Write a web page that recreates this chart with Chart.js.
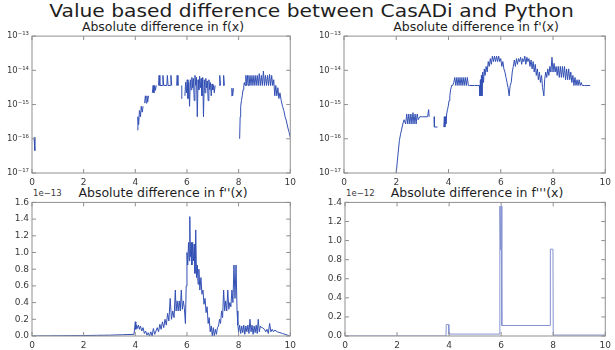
<!DOCTYPE html>
<html>
<head>
<meta charset="utf-8">
<script src="https://cdn.jsdelivr.net/npm/chart.js@4.4.0/dist/chart.umd.min.js"></script>
<style>
  body { margin: 0; width: 615px; height: 350px; overflow: hidden; position: relative; background: #fff;
         font-family: "DejaVu Sans", sans-serif; }
  canvas { position: absolute; }
  .txt { position: absolute; white-space: nowrap; color: #1e1e1e; }
  .main { left: 4px; top: 1px; width: 615px; text-align: center; font-size: 17px; line-height: 20px;
          transform: scaleX(1.19); }
  .sub { transform: translateX(-50%); font-size: 12.5px; line-height: 14px; }
  .off { font-size: 8.5px; line-height: 10px; color: #3a3a3a; }
</style>
</head>
<body>
<div class="txt main">Value based difference between CasADi and Python</div>
<div class="txt sub" id="t0" style="left:163px;top:20px;"></div>
<div class="txt sub" id="t1" style="left:476px;top:20px;"></div>
<div class="txt sub" id="t2" style="left:163px;top:186px;"></div>
<div class="txt sub" id="t3" style="left:477px;top:186px;"></div>
<div class="txt off" style="left:33px;top:188px;">1e−13</div>
<div class="txt off" style="left:346px;top:188px;">1e−12</div>
<canvas id="c0"></canvas>
<canvas id="c1"></canvas>
<canvas id="c2"></canvas>
<canvas id="c3"></canvas>
<script>
// ---- data ----
const titles = ['Absolute difference in f(x)', "Absolute difference in f'(x)",
                "Absolute difference in f''(x)", "Absolute difference in f'''(x)"];
const xTicks = [0, 2, 4, 6, 8, 10];
const logTicks = [1e-17, 1e-16, 1e-15, 1e-14, 1e-13];
const f2Ticks = [0, 0.2, 0.4, 0.6, 0.8, 1.0, 1.2, 1.4, 1.6];   // x 1e-13
const f3Ticks = [0, 0.2, 0.4, 0.6, 0.8, 1.0, 1.2, 1.4];        // x 1e-12

// f(x)
const fX = [
  0.08, 0.11, 0.12,
  4.08, 4.10, 4.13, 4.16, 4.20, 4.23, 4.27, 4.30, 4.33,
  4.36, 4.39, 4.42, 4.45, 4.48, 4.51, 4.54,
  4.66, 4.69, 4.72, 4.75, 4.78, 4.81, 4.84,
  4.90, 4.92, 4.95, 5.05, 5.07, 5.10, 5.22, 5.24, 5.27, 5.36, 5.38, 5.41, 5.50,
  5.60, 5.62, 5.65, 5.68,
  5.78, 5.80, 5.83,
  5.92, 5.95, 5.98, 6.01, 6.04, 6.07, 6.10, 6.13, 6.16, 6.19,
  6.22, 6.25, 6.28, 6.31, 6.34, 6.37, 6.40, 6.43, 6.46, 6.49,
  6.52, 6.55, 6.58, 6.61, 6.64, 6.67, 6.70, 6.73, 6.76, 6.79,
  6.82, 6.85, 6.88, 6.91, 6.94, 6.97, 7.00, 7.03, 7.06, 7.09, 7.12,
  7.25, 7.27, 7.30, 7.33,
  7.40, 7.42, 7.45, 7.48,
  7.72, 7.74, 7.77, 7.80, 7.83,
  8.04, 8.06, 8.08, 8.11, 8.14, 8.17, 8.20, 8.22, 8.25,
  8.28, 8.31, 8.34, 8.37, 8.40,
  8.44, 8.48, 8.52, 8.56, 8.60, 8.64, 8.68, 8.72, 8.76, 8.80,
  8.84, 8.88, 8.92, 8.96, 9.00, 9.04, 9.08, 9.12, 9.16, 9.20,
  9.24, 9.28, 9.32, 9.36, 9.40, 9.44, 9.48, 9.52, 9.56, 9.60,
  9.65, 9.70, 9.75, 9.80, 9.85, 9.90, 9.95, 10.0
];
const fY = [
  1.1e-16, 4.5e-17, null,
  1.8e-16, 4.4e-16, 2.6e-16, 6.7e-16, 4.4e-16, 8.9e-16, 6.0e-16, 8.9e-16, null,
  1.1e-15, 1.8e-15, 1.1e-15, 1.8e-15, 1.2e-15, 1.8e-15, null,
  2.2e-15, 3.6e-15, 2.2e-15, 3.6e-15, 2.6e-15, 3.6e-15, null,
  3.6e-15, 7.1e-15, 3.6e-15, 3.6e-15, 7.1e-15, 3.6e-15, 3.6e-15, 7.1e-15, 3.6e-15, 3.6e-15, 7.1e-15, 3.6e-15, null,
  3.6e-15, 7.1e-15, 3.6e-15, null,
  1.5e-15, 3.6e-15, null,
  1.8e-15, 4.5e-15, 2.2e-15, 5.3e-15, 1.5e-15, 4.4e-15, 8.9e-16, 5.3e-15, 2.7e-15, 6.2e-15,
  3.1e-15, 5.8e-15, 1.3e-15, 7.1e-15, 3.6e-15, 6.2e-15, 4.4e-16, 5.3e-15, 2.7e-15, 6.7e-15,
  3.1e-15, 5.8e-15, 1.8e-15, 6.2e-15, 4.4e-16, 5.3e-15, 2.2e-15, 5.8e-15, 3.1e-15, 4.9e-15,
  1.3e-15, 5.3e-15, 2.7e-15, 4.4e-15, 1.8e-15, 4.0e-15, 2.7e-15, 3.6e-15, 2.2e-15, 3.6e-15, null,
  3.6e-15, 7.1e-15, 3.6e-15, null,
  3.6e-15, 7.1e-15, 3.6e-15, null,
  1.8e-15, 3.0e-15, 1.8e-15, 3.0e-15, null,
  1.0e-16, 4.4e-16, 8.9e-16, 1.3e-15, 1.8e-15, 2.7e-15, 3.6e-15, 4.4e-15, 3.6e-15,
  7.1e-15, 3.6e-15, 7.1e-15, 3.6e-15, 7.1e-15,
  3.6e-15, 7.1e-15, 3.6e-15, 7.1e-15, 3.6e-15, 7.1e-15, 3.6e-15, 7.1e-15, 3.6e-15, 8.0e-15,
  3.6e-15, 7.1e-15, 3.6e-15, 9.5e-15, 3.6e-15, 7.1e-15, 3.6e-15, 7.1e-15, 3.6e-15, 7.6e-15,
  3.6e-15, 7.1e-15, 3.6e-15, 5.3e-15, 1.8e-15, 3.6e-15, 1.8e-15, 3.1e-15, 1.5e-15, 2.2e-15,
  1.3e-15, 8.9e-16, 6.7e-16, 4.4e-16, 3.3e-16, 2.2e-16, 1.6e-16, 1.1e-16
];

// f'(x)
const f1X = [
  2.00, 2.04, 2.08, 2.12, 2.16, 2.20, 2.25, 2.30,
  2.36, 2.40, 2.44, 2.48, 2.52, 2.56, 2.60, 2.64, 2.68, 2.72, 2.76, 2.80, 2.84,
  2.90, 3.00, 3.10, 3.20, 3.24, 3.26, 3.30,
  3.45, 3.46, 3.58, 3.60,
  3.82, 3.84, 3.86, 3.88, 3.90, 3.93, 3.96, 3.99, 4.02, 4.05, 4.08, 4.12,
  4.16, 4.20, 4.24, 4.28, 4.32, 4.36, 4.40, 4.44, 4.48, 4.52, 4.56, 4.60, 4.64, 4.68, 4.72, 4.76, 4.80,
  4.90, 5.00, 5.10, 5.18, 5.20, 5.22, 5.24, 5.26, 5.28, 5.31, 5.34, 5.37, 5.40,
  5.44, 5.48, 5.52, 5.56, 5.60, 5.64, 5.68, 5.72, 5.76, 5.80,
  5.84, 5.88, 5.92, 5.96, 6.00, 6.04, 6.08, 6.12, 6.16, 6.20,
  6.24, 6.28, 6.32, 6.36,
  6.40, 6.44, 6.48, 6.52, 6.56, 6.60, 6.64, 6.68, 6.72, 6.76,
  6.80, 6.84, 6.88, 6.92, 6.96, 7.00, 7.04, 7.08, 7.12, 7.16,
  7.20, 7.24, 7.28, 7.32, 7.36, 7.40, 7.44, 7.48, 7.52, 7.56,
  7.60,
  7.65, 7.68, 7.72, 7.76, 7.80, 7.84, 7.88, 7.92, 7.96, 8.00,
  8.04, 8.08, 8.12, 8.16, 8.20, 8.24, 8.28, 8.32, 8.36, 8.40,
  8.44, 8.48, 8.52, 8.56, 8.60, 8.64, 8.68, 8.72, 8.76, 8.80,
  8.84, 8.88, 8.92, 8.96, 9.00, 9.04, 9.08, 9.12,
  9.20, 9.30, 9.42
];
const f1Y = [
  1.0e-17, 2.2e-17, 4.4e-17, 8.9e-17, 1.3e-16, 1.8e-16, 2.7e-16, 3.6e-16,
  2.7e-16, 5.3e-16, 2.7e-16, 5.3e-16, 2.7e-16, 5.3e-16, 2.7e-16, 5.8e-16, 2.7e-16, 5.3e-16, 2.7e-16, 5.3e-16, 3.6e-16,
  4.4e-16, 4.4e-16, 4.4e-16, 4.4e-16, 7.1e-16, 4.4e-16, null,
  4.4e-16, 2.2e-16, 2.2e-16, null,
  2.2e-16, 4.4e-16, 2.2e-16, 4.4e-16, 2.7e-16, 5.3e-16, 7.1e-16, 8.9e-16, 1.3e-15, 1.8e-15, 2.7e-15, 3.6e-15,
  3.6e-15, 4.4e-15, 6.2e-15, 3.6e-15, 6.2e-15, 3.6e-15, 6.2e-15, 3.6e-15, 6.2e-15, 3.6e-15, 6.2e-15, 3.6e-15, 6.2e-15, 3.6e-15, 6.2e-15, 3.6e-15, 3.6e-15,
  3.6e-15, 3.6e-15, 3.6e-15, 3.6e-15, 1.8e-15, 5.3e-15, 1.8e-15, 7.1e-15, 1.8e-15, 8.9e-15, 4.4e-15, 1.1e-14, 7.1e-15,
  1.3e-14, 8.9e-15, 1.8e-14, 1.3e-14, 2.2e-14, 1.5e-14, 2.6e-14, 1.8e-14, 2.6e-14, 1.8e-14,
  2.6e-14, 1.8e-14, 2.6e-14, 1.8e-14, 2.2e-14, 1.3e-14, 1.8e-14, 1.1e-14, 8.9e-15, 6.2e-15,
  4.4e-15, 3.1e-15, 1.8e-15, 3.6e-15,
  4.4e-15, 8.9e-15, 1.3e-14, 2.0e-14, 1.3e-14, 2.2e-14, 1.5e-14, 2.2e-14, 1.8e-14, 2.4e-14,
  1.5e-14, 2.2e-14, 1.8e-14, 2.6e-14, 1.5e-14, 2.4e-14, 1.8e-14, 2.2e-14, 1.3e-14, 2.0e-14,
  1.1e-14, 1.8e-14, 8.9e-15, 1.5e-14, 7.1e-15, 1.1e-14, 5.3e-15, 8.9e-15, 4.4e-15, 7.1e-15,
  3.1e-15,
  1.8e-15, 5.3e-15, 8.9e-15, 6.2e-15, 1.1e-14, 7.1e-15, 1.3e-14, 8.9e-15, 2.4e-14, 8.9e-15,
  1.6e-14, 8.9e-15, 1.3e-14, 7.1e-15, 1.3e-14, 6.2e-15, 1.3e-14, 6.2e-15, 1.3e-14, 6.2e-15,
  1.3e-14, 5.3e-15, 1.1e-14, 5.3e-15, 1.1e-14, 5.3e-15, 8.9e-15, 4.4e-15, 7.1e-15, 3.6e-15,
  6.2e-15, 3.6e-15, 5.3e-15, 3.6e-15, 5.3e-15, 3.6e-15, 4.4e-15, 3.6e-15,
  3.6e-15, 3.6e-15, 3.6e-15
];

// f''(x), in units of 1e-13
const f2X = [
  0.0, 1.9, 2.5, 3.0, 3.5, 3.95,
  4.00, 4.02, 4.05, 4.08, 4.12, 4.16, 4.20, 4.25, 4.30, 4.35,
  4.40, 4.45, 4.50, 4.55, 4.60, 4.65, 4.70, 4.75, 4.80, 4.85,
  4.90, 4.95, 5.00, 5.05, 5.10, 5.15, 5.20, 5.25, 5.30, 5.35,
  5.40, 5.45, 5.50, 5.55,
  5.58, 5.62, 5.66, 5.70, 5.74, 5.78, 5.82, 5.86, 5.90, 5.94, 5.97,
  6.00, 6.03, 6.06, 6.09, 6.11, 6.13, 6.16, 6.19, 6.22, 6.25, 6.28, 6.31, 6.34, 6.37, 6.40, 6.43, 6.46,
  6.50, 6.54, 6.58, 6.62, 6.66, 6.70, 6.74, 6.78, 6.82, 6.86,
  6.90, 6.94, 6.98, 7.02, 7.06, 7.10, 7.14, 7.18, 7.22, 7.26,
  7.30, 7.34, 7.38, 7.42, 7.46, 7.50, 7.54, 7.58, 7.62, 7.66,
  7.70, 7.74, 7.78, 7.82, 7.86, 7.90, 7.94,
  7.97, 8.00,
  8.04, 8.08, 8.12, 8.16, 8.20, 8.24, 8.28, 8.32, 8.36, 8.40,
  8.44, 8.48, 8.52, 8.56, 8.60, 8.64, 8.68, 8.72, 8.76, 8.80,
  8.84, 8.88, 8.92,
  9.00, 9.05, 9.10, 9.15, 9.20, 9.25, 9.30, 9.35, 9.40, 9.50, 9.60, 9.70, 9.80, 9.90, 10.0
];
const f2Y = [
  0, 0.005, 0.008, 0.01, 0.015, 0.02,
  0.17, 0.08, 0.13, 0.09, 0.13, 0.08, 0.12, 0.06, 0.10, 0.03,
  0.06, 0.01, 0.04, 0.00, 0.05, 0.00, 0.09, 0.02, 0.06, 0.10,
  0.05, 0.14, 0.08, 0.17, 0.10, 0.20, 0.13, 0.27, 0.18, 0.45,
  0.20, 0.30, 0.22, 0.55,
  0.30, 0.42, 0.30, 0.42, 0.30, 0.55, 0.32, 0.42, 0.33, 0.15, 0.60,
  1.00, 0.85, 1.12, 0.90, 1.43, 0.95, 1.12, 0.85, 1.12, 0.90, 1.10, 0.75, 1.27, 0.70, 0.85, 0.62, 0.80,
  0.55, 0.70, 0.50, 0.55, 0.38, 0.45, 0.28, 0.35, 0.15, 0.22,
  0.05, 0.12, 0.00, 0.10, 0.00, 0.08, 0.02, 0.10, 0.12, 0.20,
  0.15, 0.30, 0.22, 0.55, 0.30, 0.42, 0.30, 0.55, 0.32, 0.40,
  0.35, 0.55, 0.40, 0.85, 0.45, 0.85, 0.30,
  0.13, 0.05,
  0.13, 0.03, 0.12, 0.04, 0.13, 0.02, 0.12, 0.05, 0.13, 0.03,
  0.20, 0.05, 0.13, 0.02, 0.12, 0.04, 0.13, 0.03, 0.20, 0.05,
  0.12, 0.10, 0.10,
  0.08, 0.05, 0.08, 0.03, 0.15, 0.05, 0.08, 0.05, 0.07, 0.05, 0.04, 0.03, 0.02, 0.01, 0.00
];

// f'''(x), in units of 1e-12
const f3X = [0.0, 3.88, 3.89, 3.98, 3.99, 5.94, 5.95, 5.98, 6.00, 6.02, 6.03, 7.88, 7.89, 7.99, 8.00, 10.0];
const f3Y = [0, 0, 0.12, 0.12, 0.02, 0.02, 1.36, 0.90, 1.36, 1.36, 0.11, 0.11, 0.91, 0.91, 0.01, 0.01];

// ---- drawing ----
const lineColor = '#3350b4';
const thinColor = '#8593d2';
const tickColor = '#3a3a3a';
const supMap = {'-': '⁻', '0': '⁰', '1': '¹', '2': '²', '3': '³', '4': '⁴', '5': '⁵', '6': '⁶', '7': '⁷', '8': '⁸', '9': '⁹'};
const pow10 = v => '10' + String(Math.round(Math.log10(v))).split('').map(c => supMap[c]).join('');

// box round the plot area, with short inward ticks on all four sides
const framePlugin = {
  id: 'frame',
  afterDatasetsDraw(chart) {
    const { ctx, chartArea: a, scales } = chart;
    ctx.save();
    ctx.strokeStyle = '#8f8f8f';
    ctx.lineWidth = 1;
    ctx.strokeRect(a.left, a.top, a.right - a.left, a.bottom - a.top);
    ctx.beginPath();
    scales.x.ticks.forEach(t => {
      const px = scales.x.getPixelForValue(t.value);
      ctx.moveTo(px, a.bottom); ctx.lineTo(px, a.bottom - 4);
      ctx.moveTo(px, a.top); ctx.lineTo(px, a.top + 4);
    });
    scales.y.ticks.forEach(t => {
      const py = scales.y.getPixelForValue(t.value);
      ctx.moveTo(a.left, py); ctx.lineTo(a.left + 4, py);
      ctx.moveTo(a.right, py); ctx.lineTo(a.right - 4, py);
    });
    ctx.stroke();
    ctx.restore();
  }
};

function makePanel(id, box, xs, ys, yOpts, color) {
  const canvas = document.getElementById(id);
  canvas.style.left = box.left + 'px';
  canvas.style.top = box.top + 'px';
  canvas.style.width = box.w + 'px';
  canvas.style.height = box.h + 'px';
  canvas.width = box.w;
  canvas.height = box.h;

  const points = xs.map((x, i) => ({ x: x, y: ys[i] }));
  new Chart(canvas.getContext('2d'), {
    type: 'line',
    data: { datasets: [{ data: points, borderColor: color, borderWidth: 1, pointRadius: 0, tension: 0, spanGaps: false, fill: false }] },
    options: {
      responsive: false,
      animation: false,
      layout: { padding: { top: box.padTop, right: box.padRight, left: 0, bottom: 0 } },
      plugins: { legend: { display: false }, tooltip: { enabled: false } },
      scales: {
        x: {
          type: 'linear', min: 0, max: 10,
          afterBuildTicks: s => { s.ticks = xTicks.map(v => ({ value: v })); },
          afterFit: s => { s.height = box.xAxisH; },
          grid: { display: false, drawTicks: false },
          border: { display: false },
          ticks: { color: tickColor, font: { family: 'DejaVu Sans', size: 9 }, padding: 4, maxRotation: 0 }
        },
        y: Object.assign({
          afterFit: s => { s.width = box.yAxisW; },
          grid: { display: false, drawTicks: false },
          border: { display: false }
        }, yOpts)
      }
    },
    plugins: [framePlugin]
  });
}

const logY = {
  type: 'logarithmic', min: 1e-17, max: 1e-13,
  afterBuildTicks: s => { s.ticks = logTicks.map(v => ({ value: v })); },
  ticks: { color: tickColor, font: { family: 'DejaVu Sans', size: 8.5 }, padding: 3, callback: v => pow10(v) }
};
const linY = (ticks) => ({
  type: 'linear', min: ticks[0], max: ticks[ticks.length - 1],
  afterBuildTicks: s => { s.ticks = ticks.map(v => ({ value: v })); },
  ticks: { color: tickColor, font: { family: 'DejaVu Sans', size: 9 }, padding: 3, callback: v => v.toFixed(1) }
});

titles.forEach((t, i) => { document.getElementById('t' + i).textContent = t; });

makePanel('c0', { left: 0,   top: 28,  w: 300, h: 162, padTop: 5, padRight: 7, yAxisW: 32, xAxisH: 17 }, fX, fY, logY, lineColor);
makePanel('c1', { left: 310, top: 28,  w: 305, h: 162, padTop: 5, padRight: 6, yAxisW: 34, xAxisH: 17 }, f1X, f1Y, logY, lineColor);
makePanel('c2', { left: 0,   top: 194, w: 300, h: 156, padTop: 5, padRight: 7, yAxisW: 32, xAxisH: 14 }, f2X, f2Y, linY(f2Ticks), lineColor);
makePanel('c3', { left: 310, top: 194, w: 305, h: 156, padTop: 5, padRight: 6, yAxisW: 35, xAxisH: 14 }, f3X, f3Y, linY(f3Ticks), thinColor);
</script>
</body>
</html>
